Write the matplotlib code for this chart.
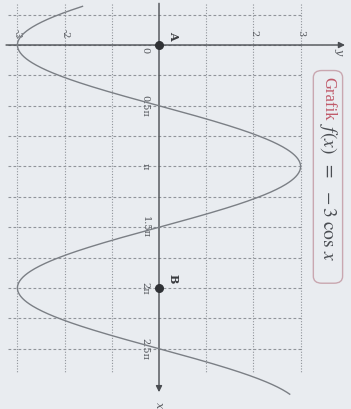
import numpy as np
import matplotlib.pyplot as plt
from matplotlib.patches import FancyBboxPatch

# function values: f(x) = -3 cos x
x_vals = np.linspace(-1.0, 9.03, 600)
f_vals = -3 * np.cos(x_vals)

# tick positions
y_ticks = [-3, -2, 2, 3]
y_tick_labels = ["-3", "-2", "2", "3"]
x_ticks = [np.pi / 2, np.pi, 1.5 * np.pi, 2 * np.pi, 2.5 * np.pi]
x_tick_labels = ["0.5π", "π", "1.5π", "2π", "2.5π"]
grid_x = [k * np.pi / 4 for k in range(-1, 11)]
grid_y = [-3, -2, -1, 1, 2, 3]

points_x = [0, 2 * np.pi]
points_y = [0, 0]
point_labels = ["A", "B"]

plt.rcParams["mathtext.fontset"] = "stix"

bg = "#e9ecf0"
fig = plt.figure(figsize=(3.51, 4.09), dpi=100, facecolor=bg)
ax = fig.add_axes([0, 0, 1, 1], facecolor=bg)

# the graph is drawn turned a quarter turn: f-values run left→right, x runs downward
ax.set_xlim(-3.369, 4.068)
ax.set_ylim(9.413, -1.164)
ax.axis("off")

grid_c = "#90949a"
for gx in grid_x:
    y0 = -0.8 if gx > 2.6 * np.pi else -3.2
    ax.plot([y0, 3.05], [gx, gx], ls=(0, (2.5, 2)), lw=0.8, color=grid_c, zorder=1)
for gy in grid_y:
    ax.plot([gy, gy], [-1.05, 8.45], ls=(0, (1, 1.5)), lw=0.8, color=grid_c, zorder=1)

axis_c = "#4a4d52"
ax.annotate("", xy=(4.0, 0), xytext=(-3.3, 0),
            arrowprops=dict(arrowstyle="-|>", color=axis_c, lw=1.0, mutation_scale=9), zorder=3)
ax.annotate("", xy=(0, 9.05), xytext=(0, -1.15),
            arrowprops=dict(arrowstyle="-|>", color=axis_c, lw=1.0, mutation_scale=9), zorder=3)

ax.plot(f_vals, x_vals, color="#7b7f85", lw=1.0, zorder=4)
ax.scatter(points_y, points_x, s=30, color="#2f3135", zorder=5)

txt_c = "#55585d"
for t, lab in zip(y_ticks, y_tick_labels):
    ax.text(t, -0.3, lab, rotation=-90, ha="center", va="center",
            fontsize=7, color=txt_c, family="DejaVu Serif")
for t, lab in zip(x_ticks, x_tick_labels):
    ax.text(-0.3, t, lab, rotation=-90, ha="center", va="center",
            fontsize=7, color=txt_c, family="DejaVu Serif")
ax.text(-0.3, 0.13, "0", rotation=-90, ha="center", va="center",
        fontsize=7, color=txt_c, family="DejaVu Serif")
ax.text(3.82, 0.15, "y", rotation=-90, ha="center", va="center",
        fontsize=8, color=txt_c, family="DejaVu Serif", style="italic")
ax.text(0, 9.3, "x", rotation=-90, ha="center", va="center",
        fontsize=8, color=txt_c, family="DejaVu Serif", style="italic")
for px, py, lab in zip(points_x, points_y, point_labels):
    ax.text(py + 0.3, px - 0.25, lab, rotation=-90, ha="center", va="center",
            fontsize=8, color="#3a3c40", family="DejaVu Serif", weight="bold")

# caption box with the function name
ax.add_patch(FancyBboxPatch(
    (3.27, 0.66), 0.62, 5.5, boxstyle="round,pad=0.0,rounding_size=0.18",
    fc="none", ec="#c9a7b0", lw=1.0, zorder=2))
ax.text(3.58, 0.83, "Grafik", rotation=-90, ha="center", va="top",
        fontsize=12, color="#c05a6a", family="Liberation Serif")
ax.text(3.58, 2.02, r"$f(x)\;\;=\;\;-3\;\cos\,x$", rotation=-90, ha="center", va="top",
        fontsize=14, color="#4a4d52")

fig.savefig("out.png", dpi=100, facecolor=bg)
